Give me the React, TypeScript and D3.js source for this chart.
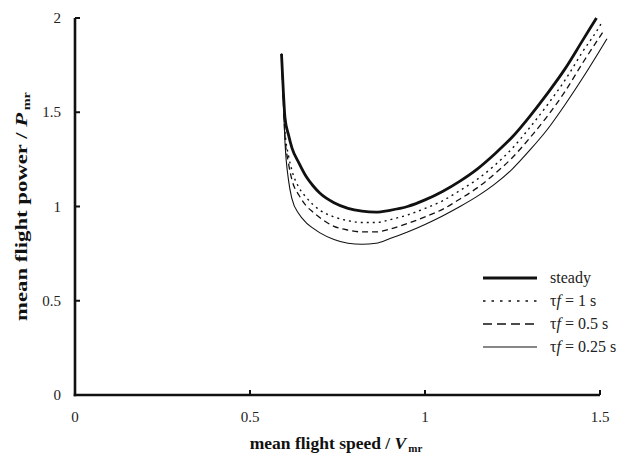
import * as d3 from 'd3';

// speeds (normalised by V_mr) and powers (normalised by P_mr)
const steadyV = [0.59, 0.595, 0.6, 0.61, 0.62, 0.64, 0.66, 0.68, 0.7, 0.74, 0.78, 0.82, 0.86, 0.9, 0.95, 1.0, 1.05, 1.1, 1.15, 1.2, 1.25, 1.3, 1.35, 1.4, 1.45, 1.49];
const steadyP = [1.81, 1.62, 1.47, 1.38, 1.31, 1.23, 1.16, 1.11, 1.07, 1.02, 0.99, 0.975, 0.97, 0.98, 1.0, 1.035, 1.08, 1.135, 1.2, 1.28, 1.37, 1.48, 1.6, 1.73, 1.88, 2.0];

const tau1V = [0.59, 0.595, 0.6, 0.61, 0.62, 0.64, 0.66, 0.68, 0.7, 0.74, 0.78, 0.82, 0.86, 0.9, 0.95, 1.0, 1.05, 1.1, 1.15, 1.2, 1.25, 1.3, 1.35, 1.4, 1.45, 1.5, 1.506];
const tau1P = [1.81, 1.6, 1.4, 1.27, 1.19, 1.1, 1.05, 1.01, 0.98, 0.945, 0.925, 0.915, 0.915, 0.93, 0.955, 0.99, 1.03, 1.085, 1.145, 1.22, 1.31, 1.42, 1.54, 1.67, 1.82, 1.96, 1.98];

const tau05V = [0.59, 0.595, 0.6, 0.61, 0.62, 0.64, 0.66, 0.68, 0.7, 0.74, 0.78, 0.82, 0.86, 0.9, 0.95, 1.0, 1.05, 1.1, 1.15, 1.2, 1.25, 1.3, 1.35, 1.4, 1.45, 1.51];
const tau05P = [1.81, 1.58, 1.37, 1.23, 1.14, 1.06, 1.005, 0.97, 0.94, 0.895, 0.875, 0.865, 0.865, 0.88, 0.91, 0.945, 0.985, 1.04, 1.1, 1.175, 1.26, 1.365, 1.48, 1.61, 1.76, 1.93];

const tau025V = [0.59, 0.595, 0.6, 0.61, 0.62, 0.64, 0.66, 0.68, 0.7, 0.74, 0.78, 0.82, 0.86, 0.9, 0.95, 1.0, 1.05, 1.1, 1.15, 1.2, 1.25, 1.3, 1.35, 1.4, 1.45, 1.52];
const tau025P = [1.81, 1.56, 1.34, 1.14, 1.04, 0.96, 0.915, 0.885, 0.86, 0.825, 0.805, 0.8, 0.805, 0.83, 0.865, 0.905, 0.95, 1.0, 1.055, 1.12, 1.2, 1.3, 1.41, 1.54, 1.68, 1.89];

const xTicks = [0, 0.5, 1, 1.5];
const yTicks = [0, 0.5, 1, 1.5, 2];
const legendLabels = ['steady', '1', '0.5', '0.25'];

const ink = '#111';
const font = 'Liberation Serif, Times New Roman, Tinos, DejaVu Serif, serif';

const App = () => {
  const width = 622;
  const height = 467;

  const x = d3.scaleLinear().domain([0, 1.5]).range([75, 600]);
  const y = d3.scaleLinear().domain([0, 2]).range([395, 18]);

  const line = d3.line<[number, number]>()
    .x(d => x(d[0]))
    .y(d => y(d[1]))
    .curve(d3.curveMonotoneX);

  const zip = (vs: number[], ps: number[]) => vs.map((v, i) => [v, ps[i]] as [number, number]);

  const series = [
    { data: zip(steadyV, steadyP), width: 2.8, dash: null, legendDash: null },
    { data: zip(tau1V, tau1P), width: 1.4, dash: '2,4', legendDash: '2.5,6' },
    { data: zip(tau05V, tau05P), width: 1.3, dash: '6,4', legendDash: '9,5' },
    { data: zip(tau025V, tau025P), width: 1.1, dash: null, legendDash: null },
  ];

  const legendY = d3.scalePoint().domain(legendLabels).range([278, 347]);
  const txt = { fontFamily: font };

  return (
    <svg width={width} height={height} style={{ position: 'absolute', left: 0, top: 0, background: '#fff', fontFamily: font }}>
      {/* curves */}
      {series.map((s, i) => (
        <path key={i} d={line(s.data) || ''} fill="none" stroke={ink}
          strokeWidth={s.width} strokeDasharray={s.dash || undefined} strokeLinejoin="round" />
      ))}

      {/* axes */}
      <line x1={x(0)} x2={x(0)} y1={y(0) + 1.3} y2={y(2)} stroke={ink} strokeWidth={2.6} />
      <line x1={x(0) - 1.3} x2={x(1.5)} y1={y(0)} y2={y(0)} stroke={ink} strokeWidth={2.6} />
      {yTicks.filter(t => t > 0).map(t => (
        <line key={'yt' + t} x1={x(0)} x2={x(0) + 5} y1={y(t)} y2={y(t)} stroke={ink} strokeWidth={2} />
      ))}
      {xTicks.filter(t => t > 0).map(t => (
        <line key={'xt' + t} x1={x(t)} x2={x(t)} y1={y(0)} y2={y(0) - 5} stroke={ink} strokeWidth={2} />
      ))}

      {/* tick labels */}
      {yTicks.map(t => (
        <text key={'yl' + t} style={txt} x={61} y={y(t) + 5} textAnchor="end" fontSize={15} fill="#222">{d3.format('~g')(t)}</text>
      ))}
      {xTicks.map(t => (
        <text key={'xl' + t} style={txt} x={x(t)} y={422} textAnchor="middle" fontSize={15} fill="#222">{d3.format('~g')(t)}</text>
      ))}

      {/* axis titles */}
      <text style={txt} x={336} y={449} textAnchor="middle" fontSize={17.5} fontWeight="bold" fill="#111">
        mean flight speed / <tspan fontStyle="italic">V</tspan>
        <tspan fontSize={11} dy={3} dx={2}>mr</tspan>
      </text>
      <text style={txt} transform={`translate(27,${y(1)}) rotate(-90) scale(1.3,1)`} textAnchor="middle" fontSize={17.5} fontWeight="bold" fill="#111">
        mean flight power / <tspan fontStyle="italic">P</tspan>
        <tspan fontSize={11} dy={3} dx={2}>mr</tspan>
      </text>

      {/* legend */}
      {series.map((s, i) => {
        const ly = legendY(legendLabels[i]) as number;
        return (
          <g key={'lg' + i}>
            <line x1={483} x2={537} y1={ly} y2={ly} stroke={ink} strokeWidth={s.width}
              strokeDasharray={s.legendDash || undefined} />
            <text style={txt} x={550} y={ly + 5} fontSize={16} fill="#222">
              {i === 0 ? 'steady' : (
                <>τ<tspan fontStyle="italic">f</tspan> = {legendLabels[i]} s</>
              )}
            </text>
          </g>
        );
      })}
    </svg>
  );
};

export default App;
